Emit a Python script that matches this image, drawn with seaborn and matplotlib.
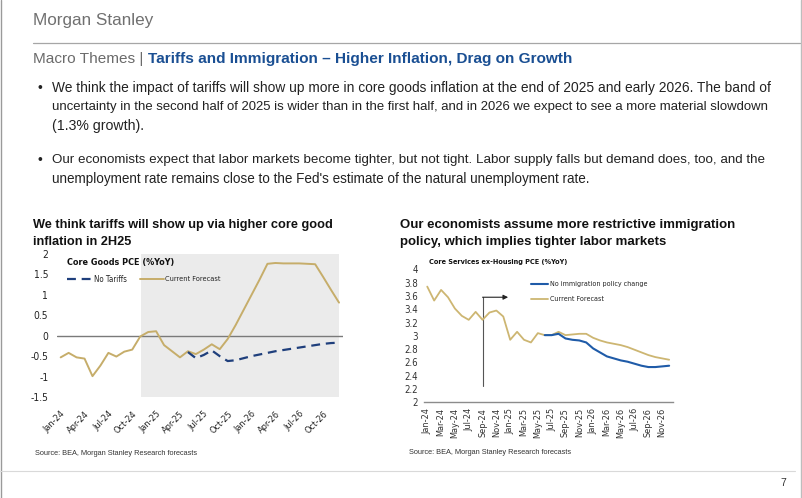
import numpy as np
import pandas as pd
import matplotlib
matplotlib.use("Agg")
import matplotlib.pyplot as plt
from matplotlib.lines import Line2D
import seaborn as sns

# ---------------- data ----------------
months = pd.date_range("2024-01-01", periods=36, freq="MS")
month_labels = [d.strftime("%b-%y") for d in months]

goods_current = [-0.53, -0.42, -0.53, -0.56, -0.99, -0.73, -0.42, -0.51, -0.39, -0.34,
                 -0.02, 0.09, 0.11, -0.23, -0.38, -0.53, -0.38, -0.45, -0.34, -0.21,
                 -0.33, -0.08, 0.26, 0.63, 1.00, 1.37, 1.76, 1.78, 1.77, 1.77,
                 1.77, 1.76, 1.75, 1.44, 1.12, 0.81]
goods_no_tariffs = [np.nan] * 16 + [-0.40, -0.55, -0.47, -0.36, -0.50, -0.62, -0.60, -0.55,
                                    -0.50, -0.46, -0.42, -0.38, -0.35, -0.32, -0.29, -0.26,
                                    -0.23, -0.20, -0.18, -0.17]

services_current = [3.74, 3.53, 3.69, 3.58, 3.41, 3.30, 3.24, 3.36, 3.24, 3.35,
                    3.38, 3.29, 2.94, 3.06, 2.94, 2.90, 3.04, 3.01, 3.01, 3.06,
                    3.01, 3.02, 3.03, 3.03, 2.97, 2.93, 2.90, 2.88, 2.86, 2.83,
                    2.79, 2.75, 2.71, 2.68, 2.66, 2.64]
services_no_immig = [np.nan] * 17 + [3.01, 3.01, 3.03, 2.96, 2.94, 2.93, 2.90, 2.81,
                                     2.75, 2.69, 2.66, 2.63, 2.61, 2.58, 2.55, 2.53,
                                     2.53, 2.54, 2.55]

goods_yticks = [2, 1.5, 1, 0.5, 0, -0.5, -1, -1.5]
services_yticks = [4, 3.8, 3.6, 3.4, 3.2, 3, 2.8, 2.6, 2.4, 2.2, 2]

shade_start = 10.1          # start of shaded (tariff) period, in months from Jan-24
policy_month = "Sep-24"     # immigration policy marker
arrow_low, arrow_high, arrow_end = 2.24, 3.58, 11.7

bullets = [
    ["We think the impact of tariffs will show up more in core goods inflation at the end of 2025 and early 2026. The band of",
     "uncertainty in the second half of 2025 is wider than in the first half, and in 2026 we expect to see a more material slowdown",
     "(1.3% growth)."],
    ["Our economists expect that labor markets become tighter, but not tight. Labor supply falls but demand does, too, and the",
     "unemployment rate remains close to the Fed's estimate of the natural unemployment rate."],
]

# ---------------- style ----------------
sns.set_theme(style="white")
plt.rcParams["font.family"] = ["Liberation Sans", "DejaVu Sans"]
NARROW = dict(family=["Liberation Sans Narrow", "DejaVu Sans"], fontstretch="condensed")

W, H = 802, 498
fig = plt.figure(figsize=(W / 100, H / 100), dpi=100)
fig.patch.set_facecolor("white")
renderer = fig.canvas.get_renderer()

GOLD = "#c6ad6a"
GOLD2 = "#cdb672"
NAVY = "#1f3f7c"
BLUE = "#1f5ba8"
MSBLUE = "#1a4f93"
TXT = "#222222"


def rect(x0, y0, x1, y1):
    return [x0 / W, 1 - y1 / H, (x1 - x0) / W, (y1 - y0) / H]


def ftext(x, y, s, width=None, size=9, **kw):
    kw.setdefault("va", "center")
    kw.setdefault("color", TXT)
    t = fig.text(x / W, 1 - y / H, s, fontsize=size, **kw)
    if width:
        bb = t.get_window_extent(renderer)
        t.set_fontsize(size * width / bb.width)
    return t


# ---------------- slide frame ----------------
frame = fig.add_axes([0, 0, 1, 1], zorder=-5)
frame.set_xlim(0, W)
frame.set_ylim(H, 0)
frame.axis("off")
frame.plot([33, 800], [43.3, 43.3], color="#a6a6a6", lw=0.9)
frame.plot([0.6, 0.6], [0, H], color="#9a9a9a", lw=1.0)
frame.plot([801.2, 801.2], [0, H], color="#bdbdbd", lw=1.0)
frame.plot([0, 795], [471, 471], color="#d9d9d9", lw=0.8)

# overlay for legend keys (on top of the charts)
top = fig.add_axes([0, 0, 1, 1], zorder=20)
top.set_xlim(0, W)
top.set_ylim(H, 0)
top.axis("off")
top.patch.set_alpha(0)

# header
ftext(33, 20.5, "Morgan Stanley", width=121, size=14, color="#707070")
ftext(33, 58.5, "Macro Themes |", width=110, size=11, color="#6b6b6b")
ftext(148, 58.5, "Tariffs and Immigration \u2013 Higher Inflation, Drag on Growth",
      width=424, size=11, color=MSBLUE, fontweight="bold")

# bullets
line_y = [[88, 107, 126], [160, 179]]
line_w = [[718, 720, 92], [711, 538]]
for bi, blines in enumerate(bullets):
    ftext(37, line_y[bi][0], "\u2022", size=10)
    for li, s in enumerate(blines):
        ftext(52, line_y[bi][li], s, width=line_w[bi][li], size=9.5)

# chart titles
t1 = ftext(33, 225, "We think tariffs will show up via higher core good", width=302, size=10,
           fontweight="bold", color="#111111")
ftext(33, 242, "inflation in 2H25", size=t1.get_fontsize(), fontweight="bold", color="#111111")
t2 = ftext(400, 225, "Our economists assume more restrictive immigration", width=338, size=10,
           fontweight="bold", color="#111111")
ftext(400, 241.5, "policy, which implies tighter labor markets", size=t2.get_fontsize(),
      fontweight="bold", color="#111111")

# sources and page number
ftext(35, 453.3, "Source: BEA, Morgan Stanley Research forecasts", width=162, size=6.5, color="#333333")
ftext(409, 452.7, "Source: BEA, Morgan Stanley Research forecasts", width=162, size=6.5, color="#333333")
ftext(783, 483, "7", size=7.5, color="#333333", ha="center")

# ---------------- left chart ----------------
x_idx = np.arange(len(months))
axL = fig.add_axes(rect(56.7, 254, 343, 397))
axL.set_facecolor("white")
axL.axvspan(shade_start, len(months) - 1, color="#ebebeb", lw=0, zorder=0)
axL.axhline(0, color="#7a7a7a", lw=1.0, zorder=1)
dfL = pd.DataFrame({"idx": x_idx, "current": goods_current, "no_tariffs": goods_no_tariffs})
sns.lineplot(data=dfL, x="idx", y="current", ax=axL, color=GOLD, lw=1.4, zorder=3)
sns.lineplot(data=dfL.dropna(), x="idx", y="no_tariffs", ax=axL, color=NAVY, lw=1.6, zorder=4)
axL.lines[-1].set_linestyle((0, (4, 2.6)))
axL.set_xlim(-0.5, len(months) - 0.5)
axL.set_ylim(-1.5, 2)
axL.set_yticks(goods_yticks)
axL.set_yticklabels([f"{v:g}" for v in goods_yticks], fontsize=7.4, color="#222222", **NARROW)
axL.set_xticks(x_idx[::3])
axL.set_xticklabels(month_labels[::3], rotation=45, ha="right", rotation_mode="anchor",
                    fontsize=6.6, color="#222222", **NARROW)
axL.tick_params(axis="y", length=0, pad=6)
axL.tick_params(axis="x", length=0, pad=9)
axL.set_xlabel("")
axL.set_ylabel("")
for sp in axL.spines.values():
    sp.set_visible(False)

ftext(66.7, 262.7, "Core Goods PCE (%YoY)", width=107, size=8, fontweight="bold",
      color="#111111", **NARROW)
top.add_line(Line2D([66.7, 93], [279.3, 279.3], color=NAVY, lw=1.6, ls=(0, (4, 2.6))))
ftext(94, 279.3, "No Tariffs", width=33, size=6.5, color="#222222", **NARROW)
top.add_line(Line2D([140, 164], [279.3, 279.3], color=GOLD, lw=1.4))
ftext(165, 279.3, "Current Forecast", width=55, size=6.5, color="#222222", **NARROW)

# ---------------- right chart ----------------
axR = fig.add_axes(rect(423.8, 269.3, 672.6, 402.3))
axR.set_facecolor("white")
dfR = pd.DataFrame({"idx": x_idx, "current": services_current, "no_immig": services_no_immig})
sns.lineplot(data=dfR, x="idx", y="current", ax=axR, color=GOLD2, lw=1.3, zorder=3)
sns.lineplot(data=dfR.dropna(), x="idx", y="no_immig", ax=axR, color=BLUE, lw=1.5, zorder=4)
pm = month_labels.index(policy_month)
axR.plot([pm, pm], [arrow_low, arrow_high], color="#555555", lw=0.8, zorder=2)
axR.annotate("", xy=(arrow_end, arrow_high), xytext=(pm, arrow_high),
             arrowprops=dict(arrowstyle="-|>", color="#222222", lw=0.8,
                             mutation_scale=7, shrinkA=0, shrinkB=0))
axR.set_xlim(-0.5, len(months) - 0.5)
axR.set_ylim(2, 4)
axR.set_yticks(services_yticks)
axR.set_yticklabels([f"{v:g}" for v in services_yticks], fontsize=6.9, color="#333333", **NARROW)
axR.set_xticks(x_idx[::2])
axR.set_xticklabels(month_labels[::2], rotation=90, ha="center", va="top",
                    fontsize=6.6, color="#333333", **NARROW)
axR.tick_params(axis="both", length=0, pad=4)
axR.set_xlabel("")
axR.set_ylabel("")
for k, sp in axR.spines.items():
    sp.set_visible(k == "bottom")
axR.spines["bottom"].set_color("#8c8c8c")
axR.spines["bottom"].set_linewidth(1.0)

ftext(429, 262.3, "Core Services ex-Housing PCE (%YoY)", width=138, size=7, fontweight="bold",
      color="#111111", **NARROW)
top.add_line(Line2D([531, 548], [284, 284], color=BLUE, lw=1.5))
ftext(549.5, 284, "No immigration policy change", width=97, size=6.5, color="#222222", **NARROW)
top.add_line(Line2D([531, 548], [299, 299], color=GOLD2, lw=1.3))
ftext(549.5, 299, "Current Forecast", width=54, size=6.5, color="#222222", **NARROW)

fig.savefig("out.png", dpi=100, facecolor="white")
